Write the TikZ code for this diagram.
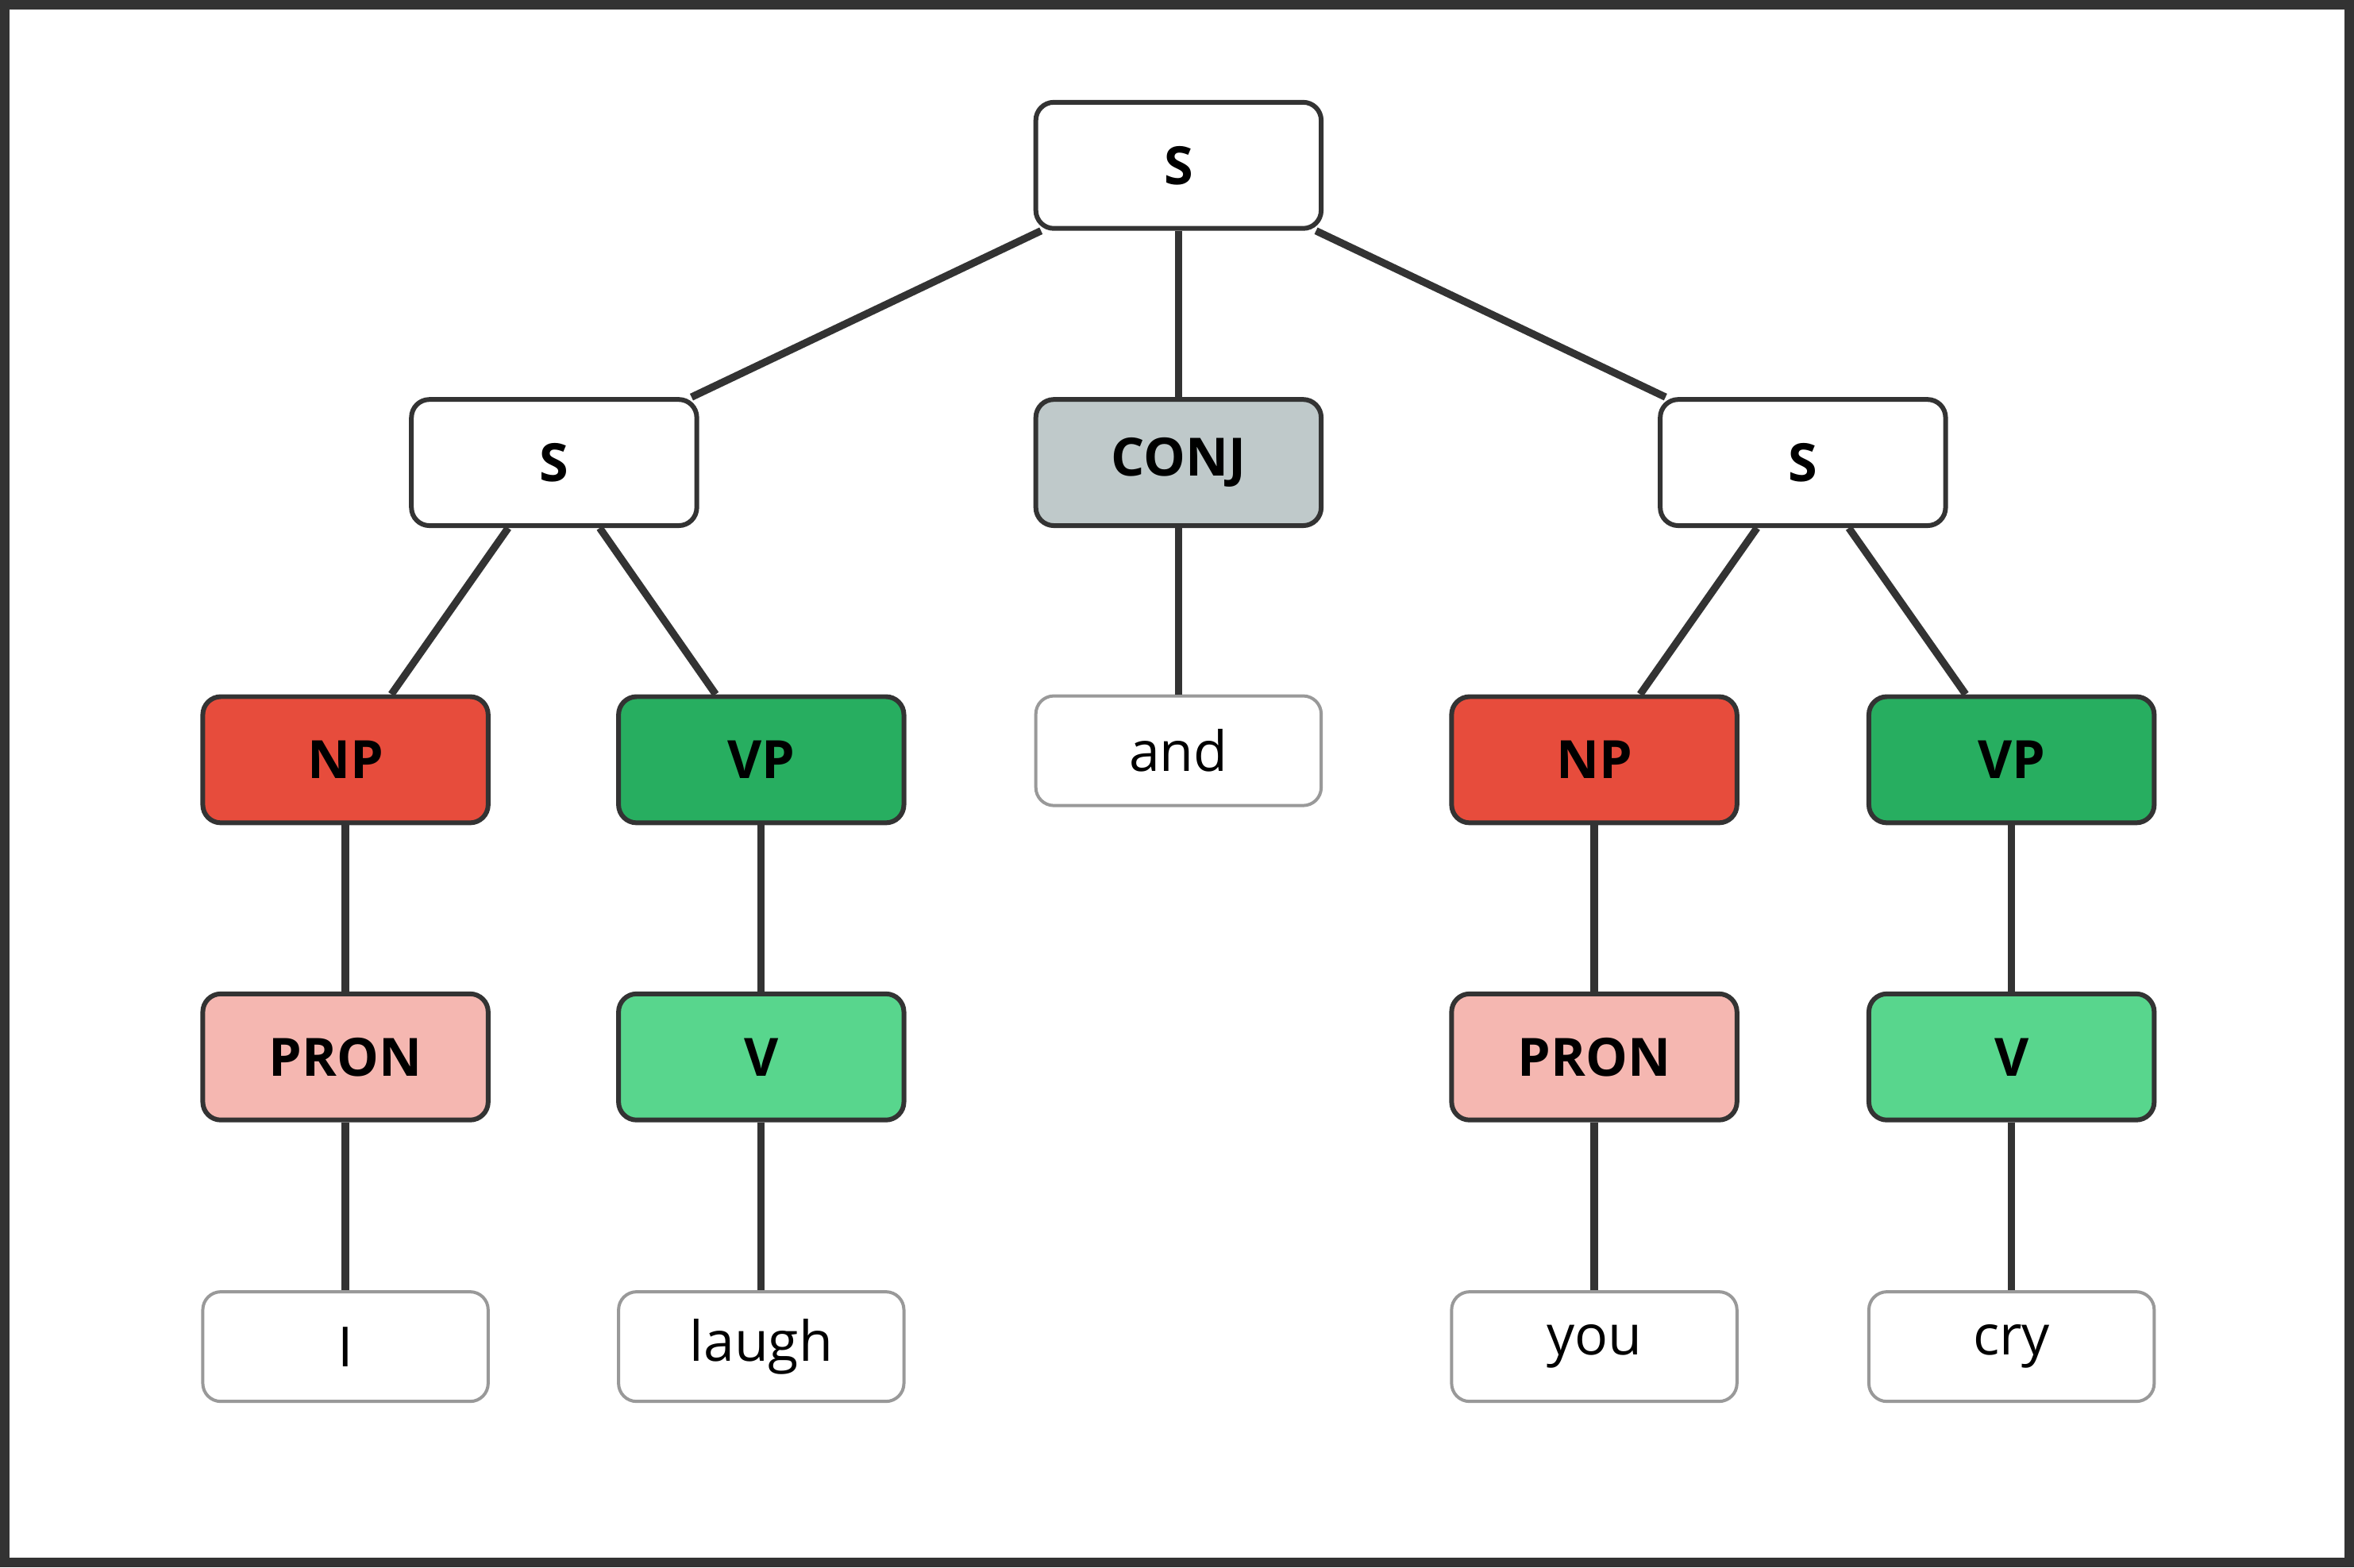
\documentclass[tikz,border=0pt]{standalone}
\usepackage{fontspec}
\setmainfont{Open Sans}
\usetikzlibrary{positioning}
\definecolor{edgegray}{HTML}{333333}
\definecolor{conjgray}{HTML}{BFC9CA}
\definecolor{npred}{HTML}{E74C3C}
\definecolor{vpgreen}{HTML}{27AE60}
\definecolor{pronpink}{HTML}{F5B7B1}
\definecolor{vgreen}{HTML}{58D68D}
\tikzset{
  cat/.style={draw=edgegray, line width=0.9pt, rounded corners=0.12cm, minimum width=1.9cm, minimum height=0.84cm, font=\fontsize{10}{12}\selectfont\bfseries},
  word/.style={draw=black!40, line width=0.6pt, rounded corners=0.12cm, fill=white, minimum width=1.9cm, minimum height=0.73cm, font=\fontsize{10.5}{12}\selectfont},
  branch/.style={draw=edgegray, line width=1.4pt}
}
\begin{document}
\begin{tikzpicture}[x=0.01cm, y=-0.01cm]
\draw[edgegray, line width=1.8pt, fill=white] (3,3) rectangle (1565,1041);
\useasboundingbox (0,0) rectangle (1568,1044);
% phrase nodes
\node[cat, fill=white] (root) at (785,110) {S};
\node[cat, fill=white] (sl) at (369,308) {S};
\node[cat, fill=conjgray] (conj) at (785,308) {CONJ};
\node[cat, fill=white] (sr) at (1201,308) {S};
\node[cat, fill=npred] (npl) at (230,506) {NP};
\node[cat, fill=vpgreen] (vpl) at (507,506) {VP};
\node[cat, fill=npred] (npr) at (1062,506) {NP};
\node[cat, fill=vpgreen] (vpr) at (1340,506) {VP};
\node[cat, fill=pronpink] (pronl) at (230,704) {PRON};
\node[cat, fill=vgreen] (vl) at (507,704) {V};
\node[cat, fill=pronpink] (pronr) at (1062,704) {PRON};
\node[cat, fill=vgreen] (vr) at (1340,704) {V};
% words
\node[word] (and) at (785,500) {and};
\node[word] (wi) at (230,897) {I};
\node[word] (wlaugh) at (507,897) {laugh};
\node[word] (wyou) at (1062,897) {you};
\node[word] (wcry) at (1340,897) {cry};
% branches
\foreach \a/\b in {root/sl, root/conj, root/sr, sl/npl, sl/vpl, sr/npr, sr/vpr, conj/and,
  npl/pronl, vpl/vl, npr/pronr, vpr/vr, pronl/wi, vl/wlaugh, pronr/wyou, vr/wcry}
  \draw[branch] (\a) -- (\b);
\end{tikzpicture}
\end{document}
